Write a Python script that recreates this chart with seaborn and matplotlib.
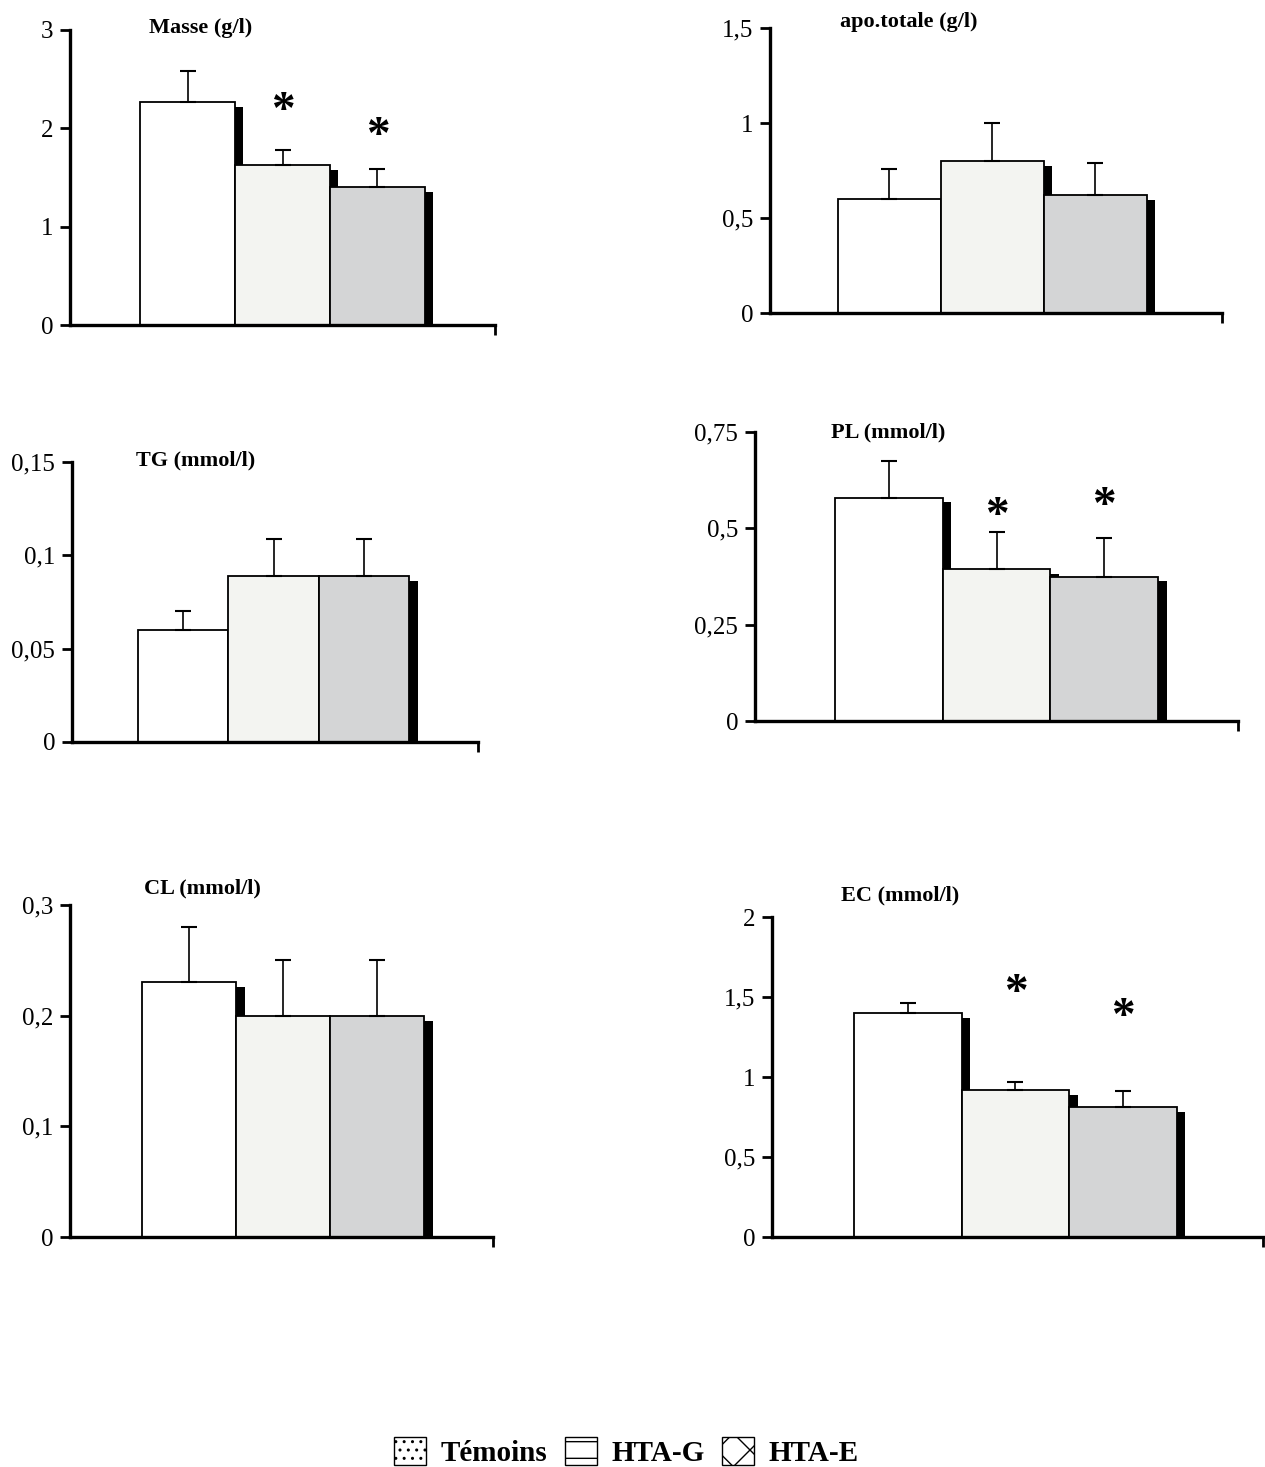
import numpy as np
import pandas as pd
import matplotlib
matplotlib.use("Agg")
import matplotlib.pyplot as plt
import matplotlib.patheffects as pe
from matplotlib.patches import Patch
import seaborn as sns

sns.set_style("white")
plt.rcParams['font.family'] = ['Liberation Serif', 'DejaVu Serif']
plt.rcParams['hatch.linewidth'] = 1.0
plt.rcParams['text.color'] = 'black'
plt.rcParams['ytick.color'] = 'black'
plt.rcParams['xtick.color'] = 'black'

# data
groups = ['Témoins', 'HTA-G', 'HTA-E']
colors = ['#ffffff', '#f3f5f0', '#d4d5d6']

titles = ['Masse (g/l)', 'apo.totale (g/l)', 'TG (mmol/l)',
          'PL (mmol/l)', 'CL (mmol/l)', 'EC (mmol/l)']
means = [[2.27, 1.63, 1.40],
         [0.60, 0.80, 0.62],
         [0.060, 0.089, 0.089],
         [0.58, 0.395, 0.375],
         [0.23, 0.20, 0.20],
         [1.40, 0.92, 0.81]]
errs = [[0.31, 0.15, 0.19],
        [0.16, 0.20, 0.17],
        [0.010, 0.020, 0.020],
        [0.095, 0.095, 0.10],
        [0.05, 0.05, 0.05],
        [0.06, 0.05, 0.10]]
yticks = [[0, 1, 2, 3],
          [0, 0.5, 1, 1.5],
          [0, 0.05, 0.1, 0.15],
          [0, 0.25, 0.5, 0.75],
          [0, 0.1, 0.2, 0.3],
          [0, 0.5, 1, 1.5, 2]]
ytick_labels = [['0', '1', '2', '3'],
                ['0', '0,5', '1', '1,5'],
                ['0', '0,05', '0,1', '0,15'],
                ['0', '0,25', '0,5', '0,75'],
                ['0', '0,1', '0,2', '0,3'],
                ['0', '0,5', '1', '1,5', '2']]
# significance stars: (bar index, height)
stars = [[(1, 2.17), (2, 1.91)],
         [],
         [],
         [(1, 0.53), (2, 0.555)],
         [],
         [(1, 1.52), (2, 1.37)]]

W, H = 1265, 1467
# axes boxes in pixels: left, top, right, bottom
boxes = [(70, 30, 495, 325),
         (770, 28, 1222, 313),
         (72, 462, 478, 742),
         (755, 432, 1238, 721),
         (70, 905, 493, 1237),
         (772, 917, 1263, 1237)]
xlims = [(-1.24, 3.24), (-1.16, 3.23), (-1.23, 3.26),
         (-1.24, 3.24), (-1.27, 3.23), (-1.26, 3.30)]
title_pos = [(201, 28), (909, 22), (196, 460),
             (888, 432), (202, 888), (900, 895)]

fig = plt.figure(figsize=(W / 100, H / 100), dpi=100)

for i in range(6):
    l, t, r, b = boxes[i]
    ax = fig.add_axes([l / W, 1 - b / H, (r - l) / W, (b - t) / H])
    df = pd.DataFrame({'group': groups, 'value': means[i]})
    sns.barplot(data=df, x='group', y='value', hue='group', order=groups,
                hue_order=groups, palette=colors, width=1, edgecolor='black',
                linewidth=1.3, errorbar=None, legend=False, ax=ax)
    for p in ax.patches:
        p.set_path_effects([pe.SimplePatchShadow(offset=(6, -3.5),
                                                 shadow_rgbFace='black', alpha=1),
                            pe.Normal()])
    ax.errorbar(np.arange(3), means[i], yerr=[np.zeros(3), errs[i]],
                fmt='none', ecolor='black', elinewidth=1.2, capsize=6,
                capthick=1.5, zorder=5)
    for j, h in stars[i]:
        ax.text(j, h, '*', ha='center', va='center', fontsize=34,
                fontweight='bold', color='black')
    ax.set_xlim(*xlims[i])
    ax.set_ylim(0, yticks[i][-1])
    ax.set_yticks(yticks[i])
    ax.set_yticklabels(ytick_labels[i], fontsize=18)
    ax.set_xticks([xlims[i][1]])
    ax.set_xticklabels([''])
    ax.set_xlabel('')
    ax.set_ylabel('')
    for s in ['top', 'right']:
        ax.spines[s].set_visible(False)
    for s in ['left', 'bottom']:
        ax.spines[s].set_linewidth(2.4)
        ax.spines[s].set_color('black')
    ax.tick_params(axis='y', direction='out', length=7, width=2, pad=5,
                   left=True, colors='black')
    ax.tick_params(axis='x', direction='out', length=7, width=2, bottom=True)
    ax.set_facecolor('white')
    fig.text(title_pos[i][0] / W, 1 - title_pos[i][1] / H, titles[i],
             ha='center', va='center', fontsize=16, fontweight='bold',
             color='black')

handles = [Patch(facecolor='white', edgecolor='black', hatch='..'),
           Patch(facecolor='white', edgecolor='black', hatch='-'),
           Patch(facecolor='white', edgecolor='black', hatch='x')]
fig.legend(handles, groups, loc='center', bbox_to_anchor=(0.495, 1 - 1452 / H),
           ncol=3, frameon=False, prop={'weight': 'bold', 'size': 21},
           handlelength=1.1, handleheight=1.1, handletextpad=0.5,
           columnspacing=0.6)

fig.savefig('out.png', dpi=100, facecolor='white')
